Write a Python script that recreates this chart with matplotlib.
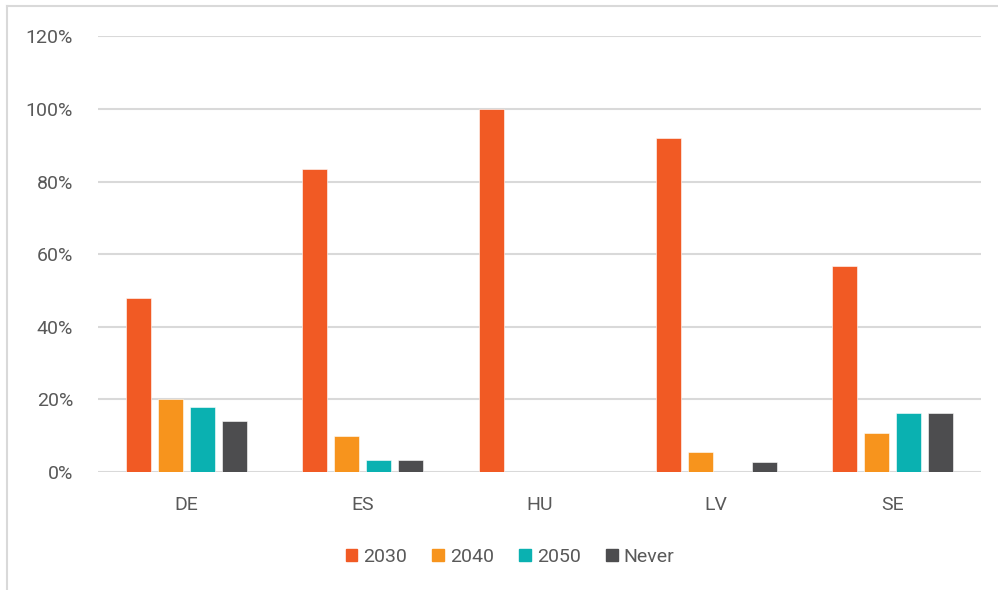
import matplotlib
matplotlib.use("Agg")
import matplotlib.pyplot as plt
from matplotlib.lines import Line2D
import numpy as np

plt.rcParams['font.family'] = ['Roboto', 'DejaVu Sans']

categories = ["DE", "ES", "HU", "LV", "SE"]
series_names = ["2030", "2040", "2050", "Never"]
v2030 = [0.48, 0.834, 1.00, 0.92, 0.567]
v2040 = [0.20, 0.10, 0.0, 0.054, 0.107]
v2050 = [0.18, 0.033, 0.0, 0.0, 0.162]
vnever = [0.14, 0.033, 0.0, 0.027, 0.162]
yticks = [0, 0.2, 0.4, 0.6, 0.8, 1.0, 1.2]
ytick_labels = ["0%", "20%", "40%", "60%", "80%", "100%", "120%"]

colors = ["#F15A24", "#F7941D", "#0AB1B1", "#4D4D4F"]
text_color = "#595959"
grid_color = "#D9D9D9"

fig = plt.figure(figsize=(9.98, 5.9), dpi=100)
ax = fig.add_axes([98/998, 118/590, (981-98)/998, (472-36.4)/590])

x = np.arange(len(categories))
bar_w = 0.142
step = 0.181
all_series = [v2030, v2040, v2050, vnever]
for i, (name, vals) in enumerate(zip(series_names, all_series)):
    offs = (i - 1.5) * step
    ax.bar(x + offs, vals, width=bar_w, color=colors[i], label=name,
           zorder=3, edgecolor="white", linewidth=0.4)

ax.set_xlim(-0.5, len(categories) - 0.5)
ax.set_ylim(0, 1.2)
ax.set_yticks(yticks)
ax.set_yticklabels(ytick_labels)
ax.set_xticks(x)
ax.set_xticklabels(categories)
ax.grid(axis="y", color=grid_color, linewidth=1.5, zorder=0)
for s in ax.spines.values():
    s.set_visible(False)
ax.tick_params(axis="both", length=0, labelsize=14, colors=text_color)
ax.tick_params(axis="y", pad=18)
ax.tick_params(axis="x", pad=17)

handles = [plt.Rectangle((0, 0), 1, 1, color=c) for c in colors]
leg = fig.legend(handles, series_names, loc="center", bbox_to_anchor=(510/998, 1 - 557/590),
                 ncol=4, frameon=False, fontsize=14, handlelength=0.6, handleheight=0.6,
                 handletextpad=0.3, columnspacing=1.3)
for t in leg.get_texts():
    t.set_color(text_color)

# outer chart frame
fig.add_artist(Line2D([7/998, 7/998], [0, 1 - 6/590], transform=fig.transFigure,
                      color=grid_color, linewidth=1.5))
fig.add_artist(Line2D([7/998, 1], [1 - 6/590, 1 - 6/590], transform=fig.transFigure,
                      color=grid_color, linewidth=1.5))

fig.savefig("out.png", dpi=100, facecolor="white")
